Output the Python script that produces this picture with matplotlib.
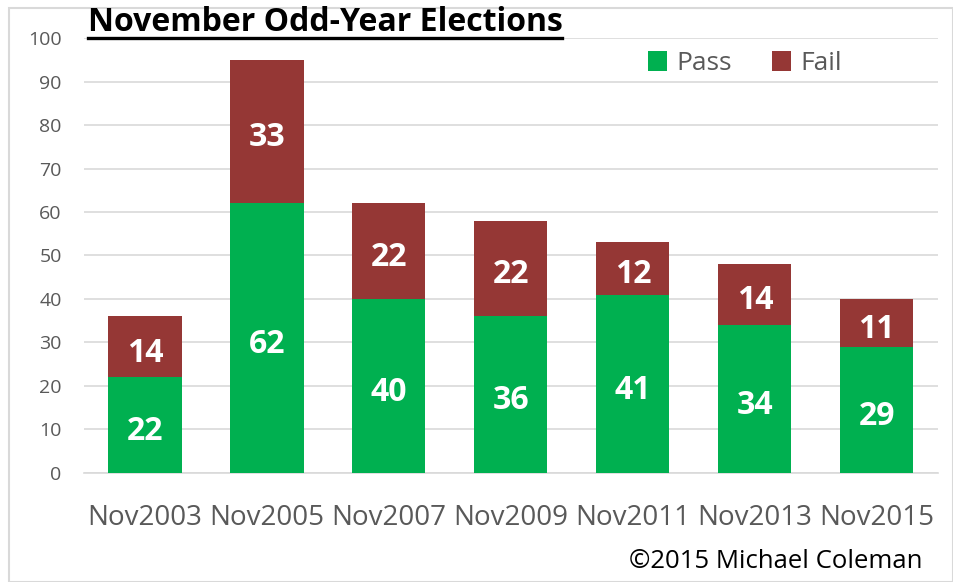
import numpy as np
import matplotlib.pyplot as plt
from matplotlib.patches import Rectangle

years = ['Nov2003', 'Nov2005', 'Nov2007', 'Nov2009', 'Nov2011', 'Nov2013', 'Nov2015']
passed = [22, 62, 40, 36, 41, 34, 29]
failed = [14, 33, 22, 22, 12, 14, 11]

plt.rcParams['font.family'] = ['Open Sans', 'DejaVu Sans']
green = '#00B050'
red = '#953735'
grey = '#595959'

fig = plt.figure(figsize=(9.54, 5.82), dpi=100)
ax = fig.add_axes([0.088, 0.1873, 0.895, 0.7474])

x = np.arange(len(years))
b1 = ax.bar(x, passed, 0.6, color=green, label='Pass', zorder=3)
b2 = ax.bar(x, failed, 0.6, bottom=passed, color=red, label='Fail', zorder=3)

for bars in (b1, b2):
    labels = ax.bar_label(bars, label_type='center', color='white', fontsize=23,
                          fontweight='bold')
    for t in labels:
        t.xyann = (0, -4.5)  # excel puts them a bit below centre

ax.set_ylim(0, 100)
ax.set_xlim(-0.5, len(years) - 0.5)
ax.set_yticks(range(0, 101, 10))
ax.set_xticks(x)
ax.set_xticklabels(years)
ax.tick_params(axis='y', length=0, labelsize=14, labelcolor=grey, pad=16)
ax.tick_params(axis='x', length=0, labelsize=20, labelcolor=grey, pad=22)
ax.grid(axis='y', color='#D9D9D9', linewidth=1.2, zorder=0)
for s in ['top', 'right', 'left']:
    ax.spines[s].set_visible(False)
ax.spines['bottom'].set_color('#D9D9D9')
ax.spines['bottom'].set_linewidth(1.2)

fig.text(0.092, 0.962, 'November Odd-Year Elections', fontsize=23,
         fontweight='bold', color='black', va='center')
# underline for the title
fig.add_artist(plt.Line2D([0.092, 0.589], [0.934, 0.934], color='black',
                          linewidth=2.4, transform=fig.transFigure))

ax.legend(loc='upper right', bbox_to_anchor=(0.916, 1.024), ncol=2, frameon=False,
          fontsize=19, labelcolor=grey, handlelength=0.75, handleheight=0.75,
          columnspacing=1.5, handletextpad=0.35)

fig.text(0.967, 0.036, '\u00a92015 Michael Coleman', fontsize=18.5,
         color='black', ha='right', va='center')

fig.add_artist(Rectangle((0.009, 0.0), 0.99, 0.986, fill=False,
                         edgecolor='#D9D9D9', linewidth=1.5,
                         transform=fig.transFigure))

fig.savefig('out.png', dpi=100)
